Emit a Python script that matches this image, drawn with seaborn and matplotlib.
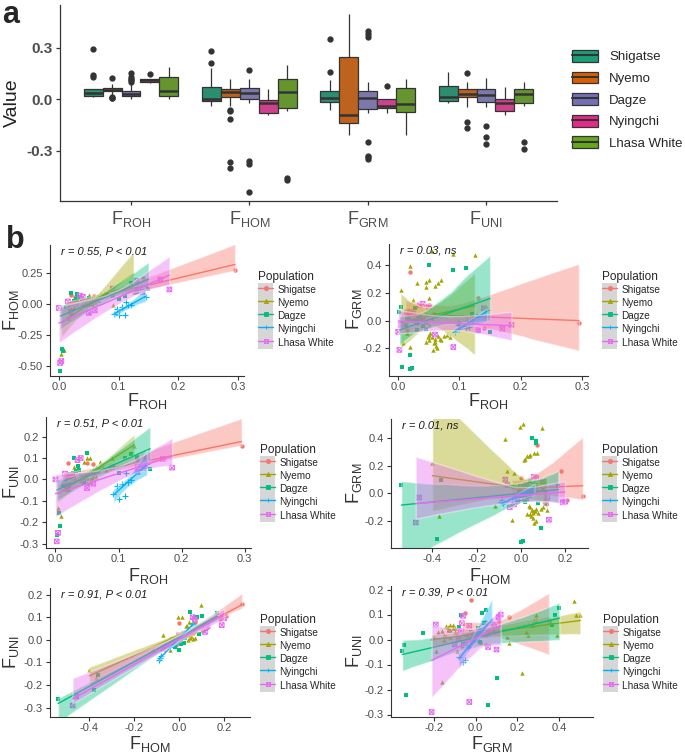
import matplotlib
matplotlib.use("Agg")
import numpy as np
import pandas as pd
import matplotlib.pyplot as plt
import seaborn as sns
from matplotlib.patches import Patch
from matplotlib.lines import Line2D
from matplotlib.path import Path
from matplotlib.collections import PolyCollection
from matplotlib.legend_handler import HandlerTuple
from matplotlib.ticker import FormatStrFormatter

# populations and measures
pops = ["Shigatse", "Nyemo", "Dagze", "Nyingchi", "Lhasa White"]
measures = ["FROH", "FHOM", "FGRM", "FUNI"]

froh = {
    "Shigatse": [0.295, 0.14, 0.13, 0.02, 0.018, 0.05, 0.015, 0.025, 0.03, 0.059, 0.012, 0.04, 0.027, 0.045],
    "Nyemo": [0.004, 0.008, 0.02, 0.03, 0.045, 0.05, 0.045, 0.09, 0.125, 0.055, 0.06, 0.05, 0.07, 0.065,
              0.05, 0.055, 0.06, 0.045, 0.065, 0.07, 0.058, 0.062, 0.048, 0.075, 0.052, 0.068, 0.08, 0.057,
              0.06, 0.085, 0.064, 0.05, 0.02, 0.015, 0.025, 0.055, 0.05, 0.045],
    "Dagze": [0.002, 0.005, 0.007, 0.02, 0.02, 0.022, 0.05, 0.09, 0.11, 0.15, 0.03, 0.035, 0.025, 0.04,
              0.015, 0.028, 0.045, 0.12, 0.1, 0.018, 0.13, 0.03, 0.025, 0.032, 0.012, 0.038],
    "Nyingchi": [0.092, 0.1, 0.11, 0.105, 0.115, 0.12, 0.145, 0.098, 0.112],
    "Lhasa White": [0.002, 0.004, 0.035, 0.04, 0.17, 0.185, 0.13, 0.09, 0.05, 0.02, 0.015, 0.13, 0.14, 0.0, 0.025, 0.06],
}
fhom = {
    "Shigatse": [0.28, 0.21, 0.18, 0.072, -0.04, 0.0, -0.015, 0.0, 0.002, 0.07, -0.02, -0.01, 0.06, -0.005],
    "Nyemo": [-0.40, -0.37, -0.07, 0.03, 0.043, 0.073, 0.015, -0.003, 0.096, 0.012, 0.017, -0.064, 0.06, 0.035,
              0.04, 0.05, 0.06, 0.03, 0.07, 0.08, 0.045, 0.055, 0.05, 0.09, 0.035, 0.065, 0.10, 0.06,
              0.04, 0.12, 0.07, 0.055, -0.04, -0.115, -0.03, 0.0, 0.01, 0.04],
    "Dagze": [-0.54, -0.36, -0.38, 0.09, 0.0, 0.01, 0.05, 0.07, 0.07, 0.12, 0.08, 0.06, 0.02, 0.03,
              -0.01, 0.04, 0.02, 0.17, 0.04, 0.0, 0.1, 0.025, 0.03, 0.05, -0.02, 0.045],
    "Nyingchi": [-0.08, -0.09, -0.085, -0.025, -0.01, -0.006, 0.062, -0.04, 0.02],
    "Lhasa White": [-0.475, -0.46, 0.07, 0.06, 0.2, 0.12, 0.19, 0.127, -0.07, -0.06, 0.023, 0.115, 0.1, -0.03, 0.0, -0.05],
}
fgrm = {
    "Shigatse": [-0.02, -0.05, 0.16, 0.35, 0.05, 0.11, -0.065, 0.008, -0.015, 0.045, -0.02, 0.02, 0.0, -0.01],
    "Nyemo": [0.22, -0.16, 0.39, 0.27, 0.28, 0.29, 0.24, 0.48, 0.47, 0.50, 0.25, 0.16, 0.29, 0.27,
              -0.10, -0.12, -0.13, -0.15, -0.11, -0.14, -0.16, -0.18, -0.12, -0.11, -0.09, -0.13, -0.10, -0.21,
              -0.15, -0.12, -0.20, -0.14, -0.19, -0.09, 0.15, 0.02, -0.03, 0.05],
    "Dagze": [0.06, 0.10, -0.33, -0.25, -0.35, -0.34, 0.40, 0.365, 0.38, -0.08, -0.07, 0.04, 0.0, -0.04,
              0.02, 0.09, -0.06, 0.05, -0.02, 0.01, 0.03, -0.01, 0.0, 0.02, -0.03, 0.01],
    "Nyingchi": [-0.08, -0.06, -0.05, -0.04, -0.045, -0.002, 0.078, -0.035, 0.0],
    "Lhasa White": [-0.21, -0.03, 0.11, 0.12, -0.06, -0.03, -0.065, -0.19, 0.1, 0.06, 0.06, -0.07, 0.088, -0.08, 0.05, -0.1],
}
funi = {
    "Shigatse": [0.157, 0.105, 0.09, 0.075, -0.02, 0.075, -0.025, 0.0, 0.0, 0.07, -0.015, -0.01, 0.03, -0.005],
    "Nyemo": [-0.135, -0.17, 0.02, 0.06, 0.08, 0.10, 0.03, 0.10, 0.155, 0.10, 0.02, -0.015, 0.08, 0.06,
              0.03, 0.04, 0.05, 0.02, 0.045, 0.055, 0.035, 0.03, 0.01, 0.06, 0.025, 0.04, 0.045, 0.005,
              0.0, 0.06, 0.01, 0.015, -0.045, -0.045, 0.01, -0.01, 0.005, 0.02],
    "Dagze": [-0.26, -0.155, -0.22, 0.025, -0.045, -0.02, 0.125, 0.06, 0.1, 0.05, 0.1, 0.065, 0.01, 0.02,
              -0.01, 0.03, -0.015, 0.12, 0.03, 0.0, 0.105, 0.01, 0.02, 0.04, -0.03, 0.045],
    "Nyingchi": [-0.07, -0.09, -0.08, -0.02, -0.01, -0.002, 0.07, -0.03, 0.03],
    "Lhasa White": [-0.29, -0.25, 0.09, 0.1, 0.095, 0.055, 0.065, 0.06, -0.04, -0.03, 0.027, 0.035, 0.053, 0.0, 0.02, -0.02],
}

# text of panel b
r_labels = ["r = 0.55, P < 0.01", "r = 0.03, ns", "r = 0.51, P < 0.01",
            "r = 0.01, ns", "r = 0.91, P < 0.01", "r = 0.39, P < 0.01"]

box_colors = ["#1B9E77", "#D95F02", "#7570B3", "#E7298A", "#66A61E"]
pt_colors = ["#F8766D", "#A3A500", "#00BF7D", "#00B0F6", "#E76BF3"]

# square with a cross (ggplot shape 7)
boxx = Path([(-1, -1), (1, -1), (1, 1), (-1, 1), (-1, -1), (-1, -1), (1, 1), (-1, 1), (1, -1)],
            [Path.MOVETO, Path.LINETO, Path.LINETO, Path.LINETO, Path.CLOSEPOLY,
             Path.MOVETO, Path.LINETO, Path.MOVETO, Path.LINETO])
pt_markers = ["o", "^", "s", "+", boxx]

frames = []
for p in pops:
    frames.append(pd.DataFrame({"FROH": froh[p], "FHOM": fhom[p], "FGRM": fgrm[p],
                                "FUNI": funi[p], "pop": p}))
df = pd.concat(frames, ignore_index=True)
long = df.melt(id_vars="pop", value_vars=measures, var_name="measure", value_name="value")

sns.set_theme(style="ticks")
plt.rcParams["font.family"] = ["Liberation Sans", "DejaVu Sans"]
plt.rcParams["mathtext.fontset"] = "custom"
plt.rcParams["mathtext.rm"] = "Liberation Sans"
plt.rcParams["axes.unicode_minus"] = False

W, H = 685, 753
fig = plt.figure(figsize=(W / 100, H / 100), dpi=100)


def add_ax(l, r, t, b):
    return fig.add_axes([l / W, 1 - b / H, (r - l) / W, (b - t) / H])


def flab(s):
    return "F$_{\\mathregular{" + s[1:] + "}}$"


def style_ax(ax, lw=0.9):
    sns.despine(ax=ax)
    for s in ["left", "bottom"]:
        ax.spines[s].set_color("#333333")
        ax.spines[s].set_linewidth(lw)
    ax.tick_params(color="#333333", width=lw, length=3, labelcolor="#4D4D4D", pad=2)


# ---- panel a : boxplots
ax = add_ax(60, 557, 5, 201)
sns.boxplot(data=long, x="measure", y="value", hue="pop", order=measures, hue_order=pops,
            palette=box_colors, linecolor="#333333", linewidth=0.9, width=0.8, showcaps=False,
            flierprops=dict(marker="o", markerfacecolor="#333333", markeredgecolor="#333333",
                            markersize=3.5),
            medianprops=dict(linewidth=1.8), legend=False, ax=ax)
ax.set_ylim(-0.595, 0.55)
ax.set_xlim(-0.6, 3.6)
ax.set_yticks([-0.3, 0.0, 0.3])
ax.yaxis.set_major_formatter(FormatStrFormatter("%.1f"))
ax.set_xticks(range(4))
ax.set_xticklabels([flab(m) for m in measures], fontsize=13)
for t in ax.get_yticklabels():
    t.set_fontsize(11)
    t.set_fontweight("bold")
ax.set_xlabel("")
ax.set_ylabel("Value", fontsize=14, color="#222222", labelpad=4)
style_ax(ax)
ax.tick_params(axis="x", pad=3)

handles = [(Patch(facecolor=c, edgecolor="#333333", linewidth=0.9),
            Line2D([], [], color="#333333", lw=1.5)) for c in box_colors]
ax.legend(handles, pops, loc="upper left", bbox_to_anchor=(572 / W, 1 - 50 / H),
          bbox_transform=fig.transFigure, frameon=False, fontsize=9.5, handlelength=2.0,
          handleheight=1.0, labelspacing=0.62, handletextpad=0.8, borderpad=0,
          borderaxespad=0, handler_map={tuple: HandlerTuple(ndivide=1, pad=0)})

# ---- panel b : scatter + lm per population
# x, y, axes box (l, r, t, b px), xlim, ylim, xticks, yticks, y format,
# legend (x, y) px, x label top px, y label right px
panels = [
    ("FROH", "FHOM", (50, 244, 245, 375.5), (-0.015, 0.31), (-0.577, 0.48),
     [0, 0.1, 0.2, 0.3], [-0.5, -0.25, 0, 0.25], "%.2f", 258, 271, 391, 21),
    ("FROH", "FGRM", (389, 588, 244, 375.5), (-0.015, 0.31), (-0.394, 0.55),
     [0, 0.1, 0.2, 0.3], [-0.2, 0, 0.2, 0.4], "%.1f", 602, 271, 391, 364),
    ("FROH", "FUNI", (46, 251, 417, 548), (-0.015, 0.31), (-0.321, 0.292),
     [0, 0.1, 0.2, 0.3], [-0.3, -0.2, -0.1, 0, 0.1, 0.2], "%.1f", 260, 444, 566, 21),
    ("FHOM", "FGRM", (391, 588, 419, 548), (-0.587, 0.304), (-0.394, 0.537),
     [-0.4, -0.2, 0, 0.2], [-0.2, 0, 0.2, 0.4], "%.1f", 602, 444, 566, 364),
    ("FHOM", "FUNI", (50, 250, 588, 717), (-0.576, 0.316), (-0.341, 0.229),
     [-0.4, -0.2, 0, 0.2], [-0.3, -0.2, -0.1, 0, 0.1, 0.2], "%.1f", 260, 614, 734, 21),
    ("FGRM", "FUNI", (391, 593, 586, 717), (-0.404, 0.561), (-0.31, 0.214),
     [-0.2, 0, 0.2, 0.4], [-0.3, -0.2, -0.1, 0, 0.1, 0.2], "%.1f", 603, 614, 734, 364),
]

for i, (xv, yv, box, xl, yl, xt, yt, yfmt, lx, ly, xlab_top, ylab_right) in enumerate(panels):
    ax = add_ax(*box)
    for p, c, m in zip(pops, pt_colors, pt_markers):
        sub = df[df["pop"] == p]
        if m == "+":
            sns.scatterplot(x=sub[xv], y=sub[yv], marker=m, color=c, s=22, linewidth=0.8, ax=ax)
        elif m is boxx:
            sns.scatterplot(x=sub[xv], y=sub[yv], marker=m, facecolor="none", edgecolor=c,
                            s=11, linewidth=0.7, ax=ax)
        else:
            sns.scatterplot(x=sub[xv], y=sub[yv], marker=m, color=c, s=10, linewidth=0, ax=ax)
    for k, (p, c) in enumerate(zip(pops, pt_colors)):
        sub = df[df["pop"] == p]
        n_coll, n_line = len(ax.collections), len(ax.lines)
        sns.regplot(x=sub[xv], y=sub[yv], scatter=False, color=c, ci=95, n_boot=500, seed=3,
                    line_kws=dict(lw=1.0), ax=ax)
        for coll in ax.collections[n_coll:]:
            if isinstance(coll, PolyCollection):
                coll.set_alpha(0.4)
                coll.set_zorder(2 + 0.1 * k)
        for ln in ax.lines[n_line:]:
            ln.set_zorder(2.05 + 0.1 * k)
    ax.set_xlim(*xl)
    ax.set_ylim(*yl)
    ax.set_xticks(xt)
    ax.set_yticks(yt)
    ax.xaxis.set_major_formatter(FormatStrFormatter("%.1f"))
    ax.yaxis.set_major_formatter(FormatStrFormatter(yfmt))
    ax.set_xlabel(flab(xv), fontsize=13, color="#333333")
    ax.set_ylabel(flab(yv), fontsize=13, color="#333333")
    l, r, t, b = box
    ax.xaxis.set_label_coords(0.5, (b - xlab_top) / (b - t))
    ax.yaxis.set_label_coords((ylab_right - l) / (r - l), 0.5)
    style_ax(ax, lw=0.8)
    ax.tick_params(labelsize=8)
    ax.tick_params(axis="x", pad=1.5)
    ax.text(0.055, 0.985, r_labels[i], transform=ax.transAxes, va="top", ha="left",
            style="italic", fontsize=8, color="#1a1a1a", zorder=5)

    handles = [(Patch(facecolor="#D6D6D6", edgecolor="none"),
                Line2D([], [], color=c, marker=m, markersize=3, lw=1,
                       markerfacecolor=("none" if m is boxx else c), markeredgewidth=0.6))
               for c, m in zip(pt_colors, pt_markers)]
    ax.legend(handles, pops, title="Population", loc="upper left",
              bbox_to_anchor=(lx / W, 1 - ly / H), bbox_transform=fig.transFigure,
              frameon=False, fontsize=7.2, title_fontsize=8.5, handlelength=1.5,
              handleheight=1.65, labelspacing=0.0, handletextpad=0.45, borderpad=0,
              borderaxespad=0, alignment="left",
              handler_map={tuple: HandlerTuple(ndivide=1, pad=0)})

fig.text(2 / W, 1 - 0 / H, "a", fontsize=22, fontweight="bold", va="top", ha="left")
fig.text(6 / W, 1 - 225 / H, "b", fontsize=22, fontweight="bold", va="top", ha="left")

fig.savefig("out.png", dpi=100)
